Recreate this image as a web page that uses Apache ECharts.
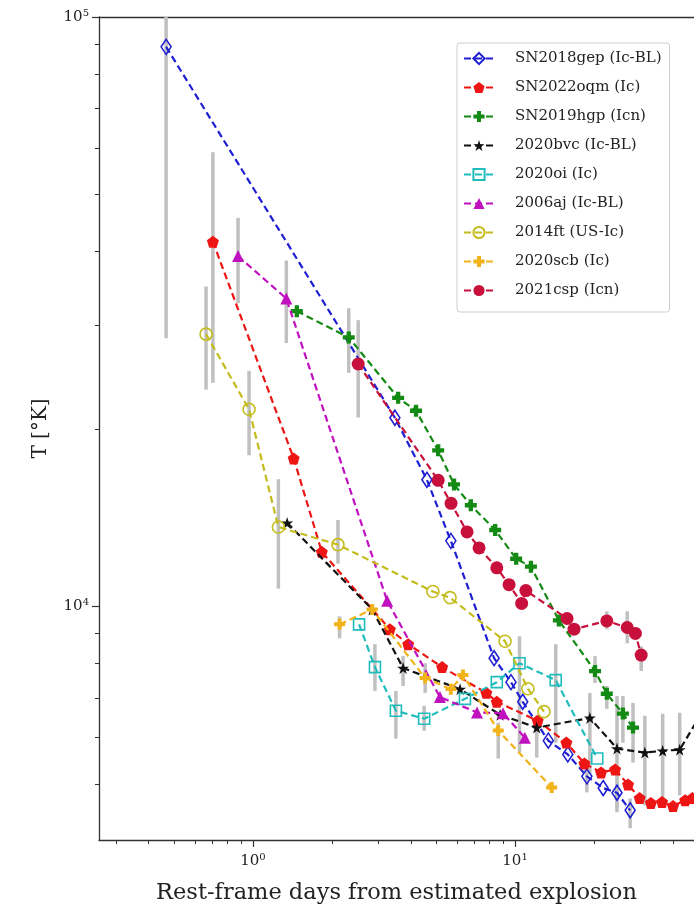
<!DOCTYPE html>
<html><head><meta charset="utf-8">
<script src="https://cdn.jsdelivr.net/npm/echarts@6/dist/echarts.min.js"></script>
<style>html,body{margin:0;padding:0;background:#fff}#c{width:694px;height:910px}</style>
</head><body><div id="c"></div>
<script>
// ---- data (rest-frame days, temperature K) ----
const seriesNames = ['SN2018gep (Ic-BL)','SN2022oqm (Ic)','SN2019hgp (Icn)','2020bvc (Ic-BL)','2020oi (Ic)','2006aj (Ic-BL)','2014ft (US-Ic)','2020scb (Ic)','2021csp (Icn)'];
const sn2018gep = [[0.466,89000],[3.48,20900],[4.61,16400],[5.69,12920],[8.32,8170],[9.65,7440],[10.7,6890],[13.4,5920],[15.9,5610],[18.8,5150],[21.7,4920],[24.5,4830],[27.5,4510]];
const sn2022oqm = [[0.703,41580],[1.43,17830],[1.83,12380],[3.33,9145],[3.91,8630],[5.27,7890],[7.77,7135],[8.52,6890],[12.2,6400],[15.7,5875],[18.4,5415],[21.3,5230],[24.1,5290],[27.0,4990],[29.9,4730],[33.0,4640],[36.4,4660],[40.1,4585],[44.6,4690],[47.5,4730],[52,4760]];
const sn2019hgp = [[1.47,31690],[2.32,28600],[3.58,22590],[4.19,21480],[5.09,18400],[5.85,16110],[6.78,14850],[8.40,13480],[10.1,12050],[11.5,11680],[14.7,9470],[20.2,7770],[22.4,7110],[25.8,6580],[28.2,6230]];
const sn2020bvc = [[1.35,13860],[2.85,9885],[3.74,7860],[6.17,7240],[8.77,6550],[12.1,6230],[19.3,6470],[24.5,5740],[31.3,5650],[36.6,5690],[42.5,5715],[51,6540]];
const sn2020oi = [[2.54,9325],[2.92,7890],[3.51,6654],[4.50,6450],[6.44,6970],[8.52,7440],[10.4,8010],[14.3,7500],[20.6,5520]];
const sn2006aj = [[0.877,39300],[1.34,33300],[3.25,10230],[5.17,7020],[7.16,6610],[9.0,6590],[10.9,5990]];
const sn2014ft = [[0.662,28970],[0.966,21600],[1.25,13640],[2.11,12730],[4.86,10600],[5.65,10350],[9.16,8730],[11.2,7250],[12.9,6630]];
const sn2020scb = [[2.14,9325],[2.85,9885],[4.54,7560],[5.69,7240],[6.33,7650],[8.63,6160],[13.8,4930]];
const sn2021csp = [[2.52,25780],[5.09,16370],[5.70,14960],[6.56,13380],[7.29,12570],[8.52,11630],[9.49,10890],[10.6,10120],[11.0,10640],[15.8,9540],[16.8,9150],[22.4,9450],[26.8,9210],[28.8,9000],[30.3,8270]];
// error bars: [day, low, high]
const errorBars = [
  [0.466,28500,150000],[0.703,23960,58970],[0.662,23320,34910],[0.966,18050,25100],[1.25,10720,16440],[2.11,11820,14020],
  [0.877,32690,45640],[1.34,27980,38630],[2.32,24910,32060],[2.52,20910,30600],[2.14,8831,9620],[4.54,7134,8010],[8.63,5520,6350],
  [2.92,7190,8630],[3.51,5967,7190],[4.50,6155,6783],[10.4,5651,8900],[14.3,5875,8630],[3.74,7330,8236],[12.1,5542,6525],
  [19.3,5200,7134],[24.5,4545,7050],[31.3,4599,6525],[36.6,4653,6576],[42.5,4781,6601],[20.2,7417,8236],[22.4,6704,7330],
  [25.8,5875,7050],[28.2,5435,6862],[18.8,4837,5310],[24.5,4475,5028],[27.5,4206,4725],[22.4,9146,9810],[26.8,8660,9810],[30.3,7771,8560]
];
const xMajorTicks = [1, 10];
const xMinorTicks = [0.3,0.4,0.5,0.6,0.7,0.8,0.9,2,3,4,5,6,7,8,9,20,30,40];
const yMajorTicks = [10000, 100000];
const yMinorTicks = [5000,6000,7000,8000,9000,20000,30000,40000,50000,60000,70000,80000,90000];
const xAxisTitle = 'Rest-frame days from estimated explosion';

// ---- styling ----
const FONT = 'DejaVu Serif';
const xMin = 0.2584, xMax = 48.2, yMin = 4016, yMax = 100000;
const P_STAR = 'path://M0,-10 L2.245,-3.09 L9.51,-3.09 L3.633,1.18 L5.88,8.09 L0,3.82 L-5.88,8.09 L-3.633,1.18 L-9.51,-3.09 L-2.245,-3.09 Z';
const P_PLUS = 'path://M-3.6,-10 L3.6,-10 L3.6,-3.6 L10,-3.6 L10,3.6 L3.6,3.6 L3.6,10 L-3.6,10 L-3.6,3.6 L-10,3.6 L-10,-3.6 L-3.6,-3.6 Z';
const P_PENT = 'path://M0,-10 L9.51,-3.09 L5.88,8.09 L-5.88,8.09 L-9.51,-3.09 Z';
const defs = [
  {d: sn2018gep, c:'#1e1ed2', sym:'diamond', size:[10,15], hollow:true},
  {d: sn2022oqm, c:'#ee1515', sym:P_PENT, size:12},
  {d: sn2019hgp, c:'#138a13', sym:P_PLUS, size:12},
  {d: sn2020bvc, c:'#111111', sym:P_STAR, size:12},
  {d: sn2020oi,  c:'#20bcbc', sym:'rect', size:11, hollow:true},
  {d: sn2006aj,  c:'#c010c0', sym:'triangle', size:12},
  {d: sn2014ft,  c:'#c4bc1c', sym:'circle', size:12, hollow:true},
  {d: sn2020scb, c:'#f2b21a', sym:P_PLUS, size:11},
  {d: sn2021csp, c:'#c8103c', sym:'circle', size:13}
];

const series = [{
  type: 'custom', name: 'err', z: 1, silent: true,
  data: errorBars,
  encode: {x: 0, y: [1, 2]},
  renderItem: (params, api) => {
    const x = api.value(0), lo = api.value(1), hi = api.value(2);
    const p1 = api.coord([x, lo]), p2 = api.coord([x, hi]);
    const cs = params.coordSys;
    const top = Math.max(p2[1], cs.y), bot = Math.min(p1[1], cs.y + cs.height);
    if (p1[0] < cs.x || p1[0] > cs.x + cs.width) return null;
    return {type: 'line', shape: {x1: p1[0], y1: bot, x2: p1[0], y2: top},
            style: {stroke: '#c0c0c0', lineWidth: 3.5}};
  }
}];
defs.forEach((s, i) => {
  series.push({
    type: 'line', name: seriesNames[i], z: 2 + i, data: s.d,
    symbol: s.sym, symbolSize: s.size, showAllSymbol: true, clip: true,
    color: s.c,
    lineStyle: {color: s.c, width: 2.2, type: [7, 4]},
    itemStyle: s.hollow ? {color: '#ffffff00', borderColor: s.c, borderWidth: 1.6} : {color: s.c, borderWidth: 0},
    emphasis: {disabled: true}
  });
});

const supFmt = v => '{b|10}{s|' + Math.round(Math.log10(v)) + '}';
const richLab = {b: {fontFamily: FONT, fontSize: 15, color: '#222'}, s: {fontFamily: FONT, fontSize: 10, color: '#222', verticalAlign: 'top', padding: [0,0,8,0]}};

const chart = echarts.init(document.getElementById('c'), null, {renderer: 'canvas'});
chart.setOption({
  animation: false,
  backgroundColor: '#fff',
  grid: {left: 99, right: 0, top: 17, bottom: 65, containLabel: false},
  legend: {
    data: seriesNames, orient: 'vertical', left: 457, top: 43,
    backgroundColor: '#fff', borderColor: '#cfcfcf', borderWidth: 1, borderRadius: 3,
    padding: [8, 8, 14, 6], itemGap: 14, itemWidth: 30, itemHeight: 14,
    textStyle: {fontFamily: FONT, fontSize: 15, color: '#222', padding: [0, 0, 0, 16]}
  },
  xAxis: [
    {type: 'log', logBase: 10, min: xMin, max: xMax, position: 'bottom',
     name: xAxisTitle, nameLocation: 'middle', nameGap: 42,
     nameTextStyle: {fontFamily: FONT, fontSize: 22.5, color: '#222'},
     axisLine: {show: true, lineStyle: {color: '#333', width: 1.3}},
     axisTick: {show: true, inside: false, length: 7, customValues: xMajorTicks, lineStyle: {color: '#333', width: 1.2}},
     axisLabel: {show: true, customValues: xMajorTicks, formatter: supFmt, rich: richLab, margin: 12},
     splitLine: {show: false}},
    {type: 'log', logBase: 10, min: xMin, max: xMax, position: 'bottom',
     axisLine: {show: false},
     axisTick: {show: true, length: 4, customValues: xMinorTicks, lineStyle: {color: '#333', width: 1}},
     axisLabel: {show: false}, splitLine: {show: false}},
    {type: 'log', logBase: 10, min: xMin, max: xMax, position: 'top',
     axisLine: {show: true, lineStyle: {color: '#333', width: 1.3}},
     axisTick: {show: false}, axisLabel: {show: false}, splitLine: {show: false}}
  ],
  yAxis: [
    {type: 'log', logBase: 10, min: yMin, max: yMax, position: 'left',
     name: 'T [°K]', nameLocation: 'middle', nameGap: 48,
     nameTextStyle: {fontFamily: FONT, fontSize: 20, color: '#222'},
     axisLine: {show: true, lineStyle: {color: '#333', width: 1.3}},
     axisTick: {show: true, length: 7, customValues: yMajorTicks, lineStyle: {color: '#333', width: 1.2}},
     axisLabel: {show: true, customValues: yMajorTicks, formatter: supFmt, rich: richLab, margin: 10},
     splitLine: {show: false}},
    {type: 'log', logBase: 10, min: yMin, max: yMax, position: 'left',
     axisLine: {show: false},
     axisTick: {show: true, length: 4, customValues: yMinorTicks, lineStyle: {color: '#333', width: 1}},
     axisLabel: {show: false}, splitLine: {show: false}}
  ],
  series: series
});
</script>
</body></html>
